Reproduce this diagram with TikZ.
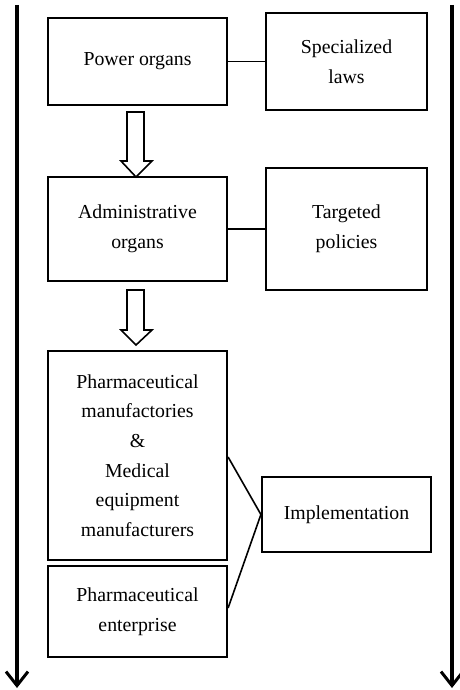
\documentclass[tikz,border=0pt]{standalone}
\usepackage{fontspec}
\setmainfont{Liberation Serif}
\usetikzlibrary{arrows.meta}
\begin{document}
\begin{tikzpicture}[x=1pt,y=-1pt,
  box/.style={draw,line width=2.2pt,inner sep=0pt,align=center,
    font=\fontsize{19.8}{29.6}\selectfont},
  link/.style={line width=1.6pt},
  side/.style={line width=3.2pt,-{Straight Barb[length=14pt,width=22pt,line width=3pt]}},
  hollow/.style={draw,line width=1.6pt,fill=white}]
\useasboundingbox (0,0) rectangle (460,690);
% side arrows
\coordinate (lt) at (17,5);
\coordinate (lb) at (17,688);
\coordinate (rt) at (452,5);
\coordinate (rb) at (452,688);
\draw[side] (lt) -- (lb);
\draw[side] (rt) -- (rb);
% boxes
\node[box,minimum width=179pt,minimum height=87pt] (power) at (137.5,61.5) {Power organs};
\node[box,minimum width=161pt,minimum height=97pt] (laws) at (346.5,61.5) {Specialized\\laws};
\node[box,minimum width=179pt,minimum height=104pt] (admin) at (137.5,229) {Administrative\\organs};
\node[box,minimum width=161pt,minimum height=122pt] (pol) at (346.5,229) {Targeted\\policies};
\node[box,minimum width=179pt,minimum height=209pt] (manu) at (137.5,455.5) {Pharmaceutical\\manufactories\\\&\\Medical\\equipment\\manufacturers};
\node[box,minimum width=179pt,minimum height=91pt] (ent) at (137.5,611.5) {Pharmaceutical\\enterprise};
\node[box,minimum width=169pt,minimum height=75pt] (impl) at (346.5,514.5) {Implementation};
% links
\draw[link] (power.east) -- (laws.west);
\draw[link] (admin.east) -- (pol.west);
\coordinate (m1) at (manu.east |- 0,457);
\coordinate (e1) at (ent.east |- 0,608);
\draw[link] (m1) -- (impl.west) -- (e1);
% hollow arrows
\draw[hollow] (127,112) -- (144,112) -- (144,161) -- (152,161) -- (136,177) -- (121,161) -- (127,161) -- cycle;
\draw[hollow] (127,290) -- (144,290) -- (144,330) -- (152,330) -- (136,345) -- (121,330) -- (127,330) -- cycle;
\end{tikzpicture}
\end{document}
